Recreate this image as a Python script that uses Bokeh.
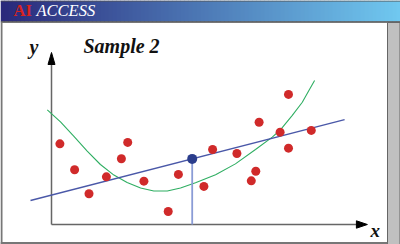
from bokeh.plotting import figure
from bokeh.models import Range1d
from bokeh.embed import file_html
from bokeh.resources import INLINE
from bokeh.core.properties import value

# ---- data (logical units; origin at the axes' corner) ----
pts_x = [0.28, 0.77, 1.25, 1.83, 2.33, 2.54, 3.08, 3.89, 4.23, 5.08,
         5.37, 6.18, 6.66, 6.81, 6.92, 7.62, 7.90, 7.90, 8.66]
pts_y = [5.04, 3.42, 1.92, 2.98, 4.11, 5.13, 2.71, 0.81, 3.13, 2.38,
         4.69, 4.44, 2.73, 3.33, 6.39, 5.77, 8.13, 4.77, 5.88]

fit_x = [-0.70, 9.77]
fit_y = [1.50, 6.56]

mean_x = [4.69]
mean_y = [4.10]

curve_x = [-0.14, 0.30, 0.74, 1.19, 1.63, 2.08, 2.52, 2.97, 3.41, 3.86,
           4.30, 4.80, 5.47, 6.13, 6.80, 7.36, 7.63, 8.02, 8.36, 8.58, 8.77]
curve_y = [7.17, 6.41, 5.53, 4.59, 3.75, 3.09, 2.63, 2.28, 2.09, 2.09,
           2.28, 2.61, 3.11, 3.79, 4.69, 5.46, 5.92, 6.81, 7.64, 8.38, 9.00]

axis_x_end = 10.53
axis_y_end = 10.75

title_text = "Sample 2"
brand_a = "AI"
brand_b = "ACCESS"

# ---- canvas mapping ----
W, H = 400, 244
OX, OY = 51, 224      # pixel position of the origin
SX, SY = 30.0, 16.0   # pixels per unit


def X(px):
    return (px - OX) / SX


def Y(py):
    return (OY - py) / SY


def BL(py, size):
    # convert a wanted baseline (pixels) to the centre used with baseline="middle"
    return Y(py - 0.3375 * size)


p = figure(width=W, height=H, output_backend="svg", toolbar_location=None,
           x_range=Range1d(X(0), X(W)), y_range=Range1d(Y(H), Y(0)),
           x_axis_type=None, y_axis_type=None, min_border=0,
           outline_line_color=None, background_fill_color="white",
           border_fill_color="white")
p.grid.visible = False

# ---- header gradient ----
c0 = (0x2a, 0x29, 0x7b)
c1 = (0x70, 0xc8, 0xf0)
n = 100
lefts, rights, cols = [], [], []
for i in range(n):
    t = i / (n - 1)
    r = int(c0[0] + (c1[0] - c0[0]) * t)
    g = int(c0[1] + (c1[1] - c0[1]) * t)
    b = int(c0[2] + (c1[2] - c0[2]) * t)
    lefts.append(X(i * W / n))
    rights.append(X((i + 1) * W / n + 0.5))
    cols.append("#%02x%02x%02x" % (r, g, b))
p.quad(left=lefts, right=rights, bottom=[Y(21)] * n, top=[Y(0)] * n,
       fill_color=cols, line_color=None)
p.segment(x0=[X(0)], y0=[Y(0.5)], x1=[X(W)], y1=[Y(0.5)], line_color="#555555", line_width=1)
p.segment(x0=[X(0)], y0=[Y(21.5)], x1=[X(W)], y1=[Y(21.5)], line_color="#4a4a4a", line_width=1.5)

# brand text
p.text(x=[X(13)], y=[BL(15.5, 16.5)], text=[brand_a], text_color="#d8231f",
       text_font=value("Liberation Serif"), text_font_style="bold",
       text_font_size="16.5px", text_baseline="middle")
p.text(x=[X(36)], y=[BL(15.5, 16.5)], text=[brand_b], text_color="white",
       text_font=value("Liberation Serif"), text_font_style="italic",
       text_font_size="16.5px", text_baseline="middle")

# ---- frame borders ----
p.quad(left=[X(387)], right=[X(399.5)], bottom=[Y(244)], top=[Y(22)],
       fill_color="#c0c0c0", line_color="#666666", line_width=1)
p.segment(x0=[X(1)], y0=[Y(22)], x1=[X(1)], y1=[Y(244)], line_color="#777777", line_width=2)
p.segment(x0=[X(0)], y0=[Y(242.5)], x1=[X(387)], y1=[Y(242.5)], line_color="#777777", line_width=2)

# ---- axes ----
p.segment(x0=[0, 0], y0=[0, 0], x1=[axis_x_end - 0.3, 0], y1=[0, axis_y_end - 0.6],
          line_color="#666666", line_width=1.5)
hx, hy = axis_x_end, 0
p.patch(x=[hx, hx - 11 / SX, hx - 11 / SX], y=[hy, hy + 3.7 / SY, hy - 3.7 / SY],
        fill_color="black", line_color="black")
vx, vy = 0, axis_y_end
p.patch(x=[vx, vx - 3.5 / SX, vx + 3.5 / SX], y=[vy, vy - 12 / SY, vy - 12 / SY],
        fill_color="black", line_color="black")

p.text(x=[X(370)], y=[BL(236, 19)], text=["x"], text_color="#111111",
       text_font=value("Liberation Serif"), text_font_style="bold italic",
       text_font_size="19px", text_baseline="middle")
p.text(x=[X(29)], y=[BL(53, 20)], text=["y"], text_color="#111111",
       text_font=value("Liberation Serif"), text_font_style="bold italic",
       text_font_size="20px", text_baseline="middle")
p.text(x=[X(83)], y=[BL(52, 20)], text=[title_text], text_color="#111111",
       text_font=value("Liberation Serif"), text_font_style="bold italic",
       text_font_size="20px", text_baseline="middle")

# ---- data marks ----
p.line(curve_x, curve_y, line_color="#2fae62", line_width=1.1)
p.line(fit_x, fit_y, line_color="#4a58a8", line_width=1.3)
p.segment(x0=mean_x, y0=mean_y, x1=mean_x, y1=[0], line_color="#8a9cd6", line_width=1.8)
p.scatter(pts_x, pts_y, size=9, fill_color="#d02a2a", line_color=None)
p.scatter(mean_x, mean_y, size=10, fill_color="#2b3d8c", line_color=None)

open("out.html", "w").write(file_html(p, INLINE))
